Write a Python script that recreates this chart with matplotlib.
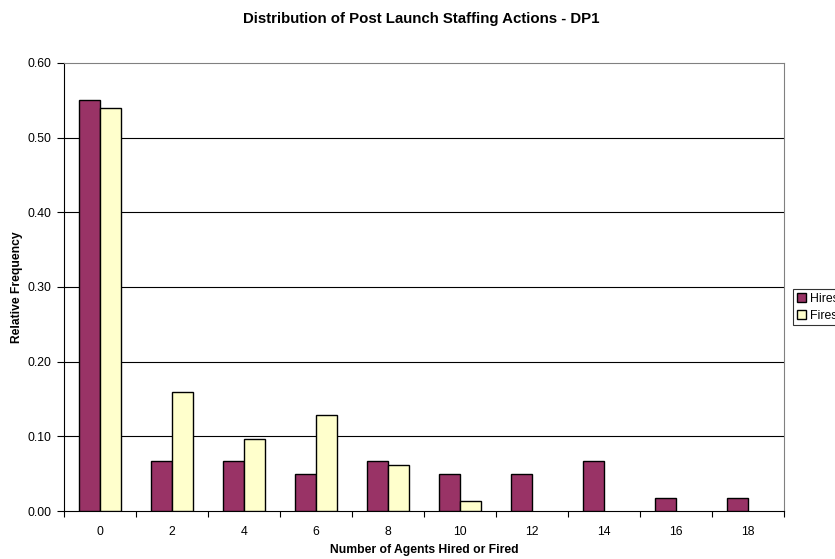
import matplotlib
matplotlib.use("Agg")
import matplotlib.pyplot as plt
import numpy as np

plt.rcParams['font.family'] = ['Liberation Sans', 'DejaVu Sans']

categories = ["0", "2", "4", "6", "8", "10", "12", "14", "16", "18"]
hires = [0.55, 0.067, 0.067, 0.05, 0.067, 0.05, 0.05, 0.067, 0.017, 0.017]
fires = [0.54, 0.159, 0.097, 0.129, 0.062, 0.013, 0.0, 0.0, 0.0, 0.0]
y_ticks = [0.0, 0.1, 0.2, 0.3, 0.4, 0.5, 0.6]

W, H = 835, 559
fig = plt.figure(figsize=(W / 100, H / 100), dpi=100)
ax = fig.add_axes([64 / W, 1 - 511 / H, (784 - 64) / W, (511 - 63) / H])

x = np.arange(len(categories))
bw = 1 / 3.5
hire_col = "#993366"
fire_col = "#FFFFCC"
ax.bar(x - bw / 2, hires, width=bw, color=hire_col, edgecolor="black", linewidth=1.0, label="Hires", zorder=3)
ax.bar(x + bw / 2, [f if f > 0 else np.nan for f in fires], width=bw, color=fire_col,
       edgecolor="black", linewidth=1.0, label="Fires", zorder=3)

ax.set_xlim(-0.5, len(categories) - 0.5)
ax.set_ylim(0, 0.6)
ax.set_yticks(y_ticks)
ax.set_yticklabels([f"{v:.2f}" for v in y_ticks], fontsize=8.8)
for v in y_ticks[1:-1]:
    ax.axhline(v, color="black", linewidth=0.8, zorder=1)

# category labels centred, tick marks on category boundaries
ax.set_xticks(x)
ax.set_xticklabels(categories, fontsize=8.8)
ax.tick_params(axis='x', length=0, pad=11)
ax.set_xticks(np.arange(-0.5, len(categories)), minor=True)
ax.tick_params(axis='x', which='minor', length=4, direction='out', width=0.8)
ax.tick_params(axis='y', length=5, direction='out', width=0.8, pad=4)

for side in ["top", "right"]:
    ax.spines[side].set_color("#808080")
    ax.spines[side].set_linewidth(0.8)
ax.spines["left"].set_color("black")
ax.spines["bottom"].set_color("black")
ax.spines["left"].set_linewidth(0.8)
ax.spines["bottom"].set_linewidth(0.8)

fig.text(424 / W, 1 - 550 / H, "Number of Agents Hired or Fired", ha="center", va="center",
         fontsize=8.7, fontweight="bold")
fig.text(17 / W, 1 - 287 / H, "Relative Frequency", ha="center", va="center",
         rotation=90, fontsize=8.7, fontweight="bold")
fig.text(421 / W, 1 - 19 / H, "Distribution of Post Launch Staffing Actions - DP1",
         ha="center", va="center", fontsize=10.8, fontweight="bold")

leg = fig.legend(loc="upper left", bbox_to_anchor=(793 / W, 1 - 289 / H), fontsize=8.8,
                 frameon=True, fancybox=False, edgecolor="black", handlelength=0.8,
                 handleheight=0.8, handletextpad=0.3, borderpad=0.3, labelspacing=0.4,
                 borderaxespad=0)
leg.get_frame().set_linewidth(0.8)

fig.savefig("out.png", dpi=100)
